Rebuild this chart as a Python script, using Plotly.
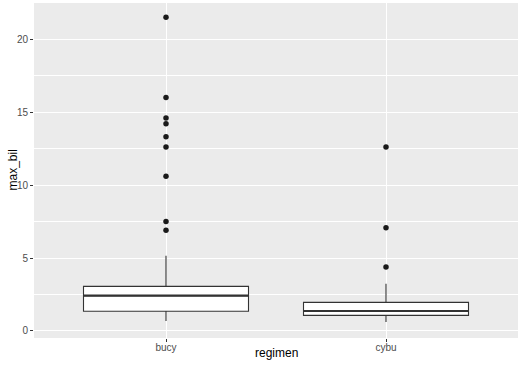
import plotly.graph_objects as go

categories = ["bucy", "cybu"]
q1 = [1.35, 1.07]
median = [2.42, 1.37]
q3 = [3.06, 1.96]
lower_whisker = [0.68, 0.62]
upper_whisker = [5.16, 3.24]
outliers_bucy = [21.5, 16.0, 14.6, 14.2, 13.3, 12.6, 10.6, 7.5, 6.9]
outliers_cybu = [12.6, 7.08, 4.38]
y_ticks = [0, 5, 10, 15, 20]

box_width = 0.75
line_col = "#333333"
xpos = list(range(len(categories)))

fig = go.Figure()
fig.add_trace(go.Box(
    x=xpos, q1=q1, median=median, q3=q3,
    lowerfence=lower_whisker, upperfence=upper_whisker,
    width=box_width, fillcolor="white", whiskerwidth=0,
    line=dict(color=line_col, width=1.1),
    boxpoints=False, showlegend=False, hoverinfo="skip",
))
# thicker median line (ggplot fatten)
for i in xpos:
    fig.add_trace(go.Scatter(
        x=[i - box_width / 2, i + box_width / 2], y=[median[i], median[i]],
        mode="lines", line=dict(color=line_col, width=2.2),
        showlegend=False, hoverinfo="skip",
    ))
out_x = [0] * len(outliers_bucy) + [1] * len(outliers_cybu)
out_y = outliers_bucy + outliers_cybu
fig.add_trace(go.Scatter(
    x=out_x, y=out_y, mode="markers",
    marker=dict(color="#1a1a1a", size=5.5), showlegend=False, hoverinfo="skip",
))

fig.update_layout(
    width=520, height=369,
    margin=dict(l=34, r=2, t=3, b=31),
    paper_bgcolor="white", plot_bgcolor="#EBEBEB",
    font=dict(family="Liberation Sans, Arial, sans-serif"),
    showlegend=False,
    annotations=[
        dict(text="regimen", xref="paper", yref="paper", x=0.5, y=0,
             xanchor="center", yanchor="middle", yshift=-15, showarrow=False,
             font=dict(size=12, color="black")),
        dict(text="max_bil", xref="paper", yref="paper", x=0, y=0.5,
             xanchor="center", yanchor="middle", xshift=-22, textangle=-90,
             showarrow=False, font=dict(size=12, color="black")),
    ],
)
fig.update_xaxes(
    type="linear", range=[-0.6, 1.6], automargin=False,
    tickvals=xpos, ticktext=categories,
    showgrid=True, gridcolor="white", gridwidth=1.1, zeroline=False,
    ticks="outside", ticklen=3, tickcolor=line_col, tickwidth=1,
    tickfont=dict(size=10, color="#4D4D4D"), ticklabelstandoff=-3,
    showline=False,
)
fig.update_yaxes(
    range=[-0.48, 22.47], tickvals=y_ticks, automargin=False,
    showgrid=True, gridcolor="white", gridwidth=1.1, zeroline=False,
    minor=dict(tickvals=[2.5, 7.5, 12.5, 17.5, 22.5], showgrid=True, gridcolor="white", gridwidth=0.5, ticks=""),
    ticks="outside", ticklen=3, tickcolor=line_col, tickwidth=1,
    tickfont=dict(size=10, color="#4D4D4D"),
    showline=False,
)
fig.write_html("out.html", config={"displayModeBar": False},
               post_script="document.body.style.margin='0';document.body.style.padding='0';")
